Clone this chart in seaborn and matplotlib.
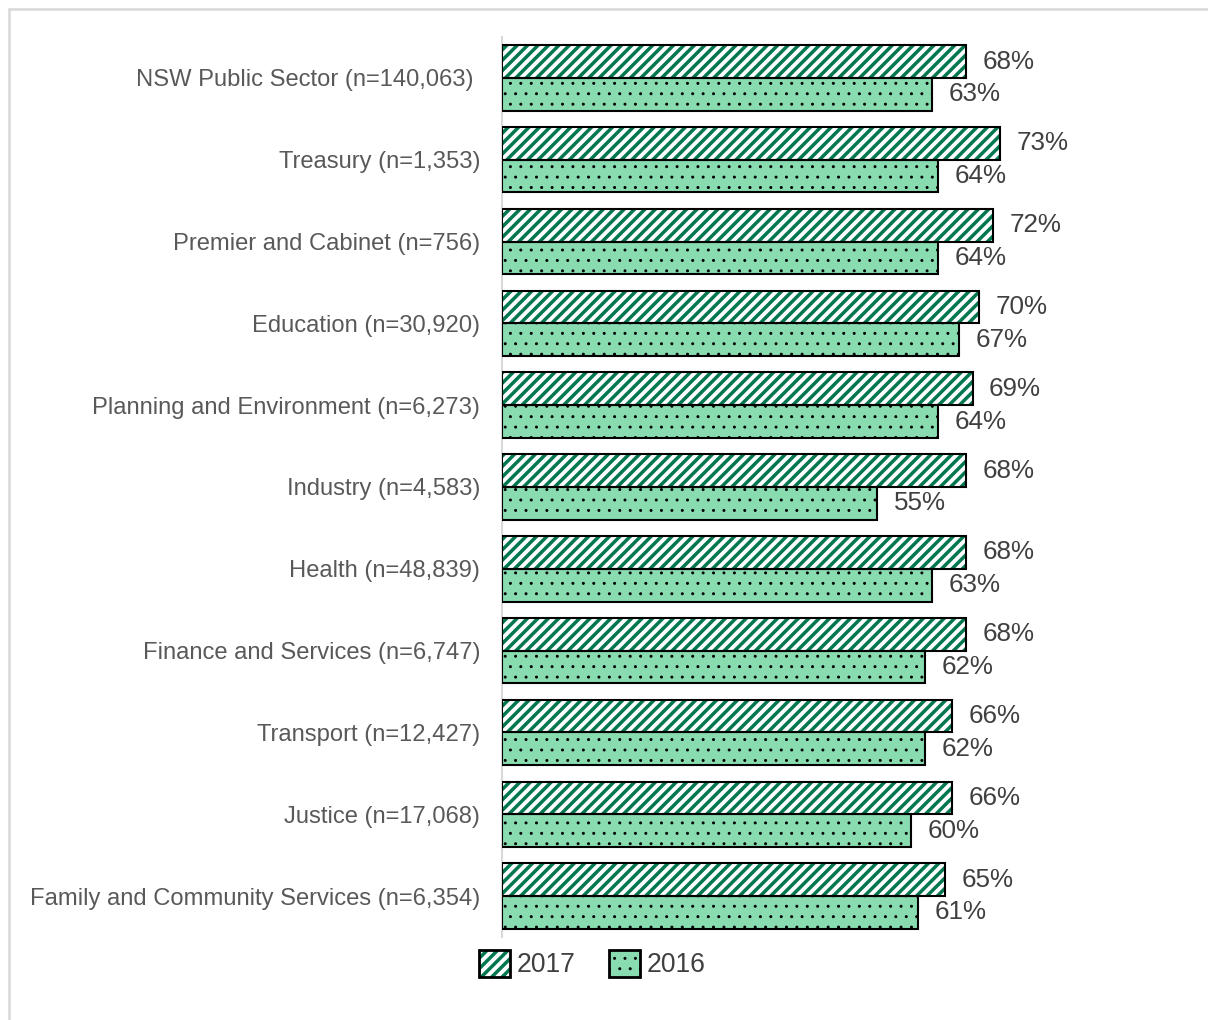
"""
Grouped horizontal bar chart: share of employees by cluster, 2017 vs 2016.
"""

import matplotlib

matplotlib.use("Agg")

import matplotlib.pyplot as plt
import pandas as pd
import seaborn as sns
from matplotlib.legend_handler import HandlerTuple
from matplotlib.patches import Patch, Rectangle


# -----------------------------
# 1. Chart data
# -----------------------------

CATEGORIES = [
    "NSW Public Sector (n=140,063) ",
    "Treasury (n=1,353)",
    "Premier and Cabinet (n=756)",
    "Education (n=30,920)",
    "Planning and Environment (n=6,273)",
    "Industry (n=4,583)",
    "Health (n=48,839)",
    "Finance and Services (n=6,747)",
    "Transport (n=12,427)",
    "Justice (n=17,068)",
    "Family and Community Services (n=6,354)",
]

VALUES_2017 = [68, 73, 72, 70, 69, 68, 68, 68, 66, 66, 65]
VALUES_2016 = [63, 64, 64, 67, 64, 55, 63, 62, 62, 60, 61]

YEARS = ["2017", "2016"]

# Colours
HATCH_GREEN = "#00774E"
LIGHT_GREEN = "#88DCB0"
LABEL_GREY = "#595959"
VALUE_GREY = "#404040"
AXIS_GREY = "#D9D9D9"

DPI = 125
STRIPE_WIDTH = 2.0
DOT_WIDTH = 0.5


def build_frame() -> pd.DataFrame:
    """Long-form table for seaborn."""
    rows = []
    for year, values in zip(YEARS, [VALUES_2017, VALUES_2016]):
        for category, value in zip(CATEGORIES, values):
            rows.append({"Category": category, "Year": year, "Value": value})
    return pd.DataFrame(rows)


def with_hatch_width(artist, width: float) -> None:
    """Draw one artist with its own hatch line width."""
    if hasattr(artist, "set_hatch_linewidth"):
        artist.set_hatch_linewidth(width)
    original_draw = artist.draw

    def draw(renderer, _draw=original_draw):
        with plt.rc_context({"hatch.linewidth": width}):
            _draw(renderer)

    artist.draw = draw


def main() -> None:
    sns.set_theme(style="white")
    plt.rcParams["font.family"] = ["Liberation Sans", "DejaVu Sans"]
    plt.rcParams["hatch.linewidth"] = STRIPE_WIDTH

    data = build_frame()

    fig = plt.figure(figsize=(1208 / DPI, 1020 / DPI), dpi=DPI, facecolor="white")
    ax = fig.add_axes([502 / 1208, 83 / 1020, 682 / 1208, 900 / 1020])

    sns.barplot(
        data=data,
        x="Value",
        y="Category",
        hue="Year",
        hue_order=YEARS,
        order=CATEGORIES,
        orient="h",
        width=0.8,
        palette=["white", LIGHT_GREEN],
        saturation=1,
        legend=False,
        ax=ax,
    )

    # seaborn draws hue levels in order: first 2017 bars, then 2016 bars
    bars = list(ax.patches)
    n = len(CATEGORIES)
    bars_2017 = bars[:n]
    bars_2016 = bars[n:]

    for bar in bars_2017:
        bar.set_facecolor("white")
        bar.set_hatch("////")
        bar.set_edgecolor(HATCH_GREEN)  # hatch takes this colour
        bar.set_linewidth(0)
        with_hatch_width(bar, STRIPE_WIDTH)
        ax.add_patch(
            Rectangle(bar.get_xy(), bar.get_width(), bar.get_height(),
                      fill=False, edgecolor="black", linewidth=1.2, zorder=3)
        )

    for bar in bars_2016:
        bar.set_facecolor(LIGHT_GREEN)
        bar.set_hatch("..")
        bar.set_edgecolor("black")
        bar.set_linewidth(1.2)
        with_hatch_width(bar, DOT_WIDTH)

    # Value labels to the right of each bar
    for bar in bars_2017 + bars_2016:
        value = bar.get_width()
        ax.annotate(
            f"{value:.0f}%",
            xy=(value, bar.get_y() + bar.get_height() / 2),
            xytext=(9.5, 0),
            textcoords="offset points",
            ha="left",
            va="center",
            fontsize=15,
            color=VALUE_GREY,
        )

    ax.set_xlim(0, 100)
    ax.set_ylim(n - 0.5, -0.5)
    ax.set_xlabel("")
    ax.set_ylabel("")
    ax.set_xticks([])
    ax.tick_params(axis="y", length=0, pad=12.5, labelsize=13.7, labelcolor=LABEL_GREY)

    for side in ["top", "right", "bottom"]:
        ax.spines[side].set_visible(False)
    ax.spines["left"].set_color(AXIS_GREY)
    ax.spines["left"].set_linewidth(1.2)
    ax.spines["left"].set_zorder(0)

    # Legend: hatched swatch overlaid with a black border
    hatch_2017 = Patch(facecolor="white", edgecolor=HATCH_GREEN, hatch="////", linewidth=0)
    border_2017 = Patch(facecolor="none", edgecolor="black", linewidth=1.6)
    patch_2016 = Patch(facecolor=LIGHT_GREEN, edgecolor="black", hatch="..", linewidth=1.6)
    legend = fig.legend(
        handles=[(hatch_2017, border_2017), patch_2016],
        labels=YEARS,
        handler_map={tuple: HandlerTuple(ndivide=1, pad=0)},
        loc="center",
        bbox_to_anchor=(592 / 1208, 1 - 964 / 1020),
        ncol=2,
        frameon=False,
        fontsize=15.3,
        labelcolor=VALUE_GREY,
        handlelength=1.17,
        handleheight=1.2,
        handletextpad=0.25,
        columnspacing=1.25,
        borderpad=0,
    )
    # keep the legend dots as fine as the bar dots
    for handle in legend.legend_handles:
        if handle is not None and handle.get_hatch() == "..":
            with_hatch_width(handle, DOT_WIDTH)

    # Thin grey chart-area border (only top and left are inside the image)
    fig.add_artist(
        Rectangle((9 / 1208, -0.05), 1.2, 1.05 - 9 / 1020, transform=fig.transFigure,
                  fill=False, edgecolor=AXIS_GREY, linewidth=1.5)
    )

    fig.savefig("out.png", dpi=DPI, facecolor="white")


if __name__ == "__main__":
    main()
